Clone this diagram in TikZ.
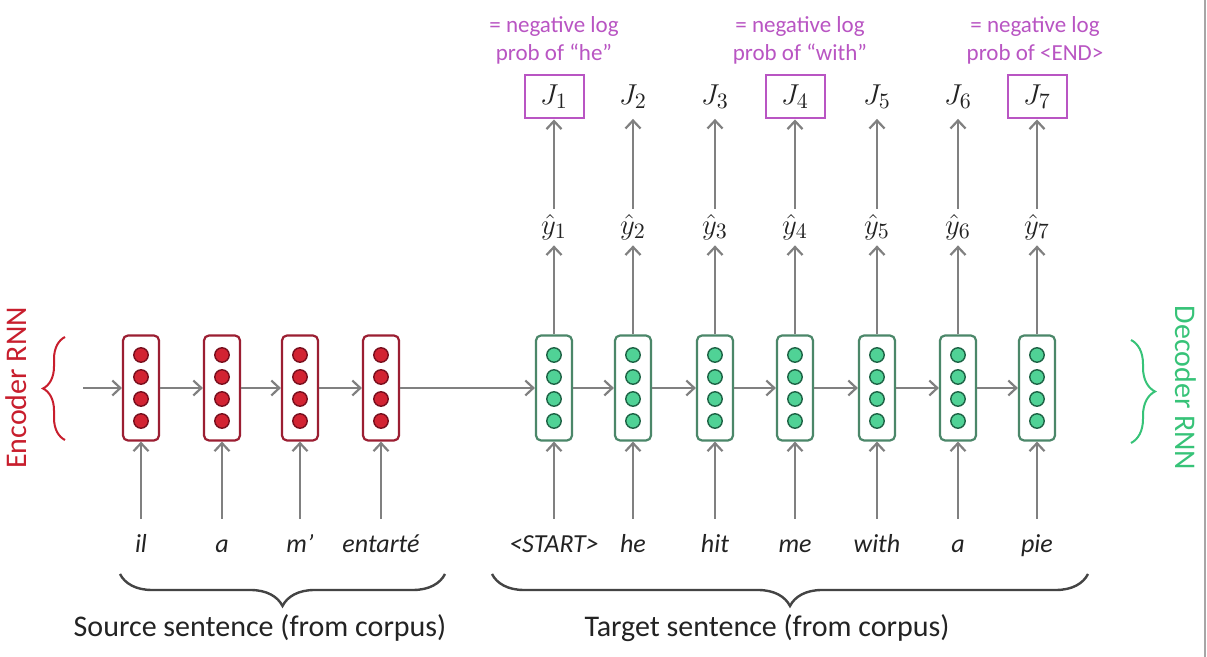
\documentclass[tikz,border=0pt]{standalone}
\usepackage{fontspec}
\setmainfont{Carlito}
\usetikzlibrary{arrows.meta,decorations.pathreplacing,calc}
\definecolor{encred}{RGB}{155,30,50}
\definecolor{encdotc}{RGB}{210,35,50}
\definecolor{encdotd}{RGB}{120,15,30}
\definecolor{enctext}{RGB}{200,30,45}
\definecolor{decgreen}{RGB}{75,135,105}
\definecolor{decdotc}{RGB}{80,210,150}
\definecolor{decdotd}{RGB}{30,100,70}
\definecolor{dectext}{RGB}{55,195,120}
\definecolor{lossp}{RGB}{185,85,195}
\definecolor{arrg}{RGB}{128,128,128}
\definecolor{textc}{RGB}{35,35,35}
\begin{document}
\begin{tikzpicture}[x=0.5pt,y=-0.5pt,
  every node/.style={inner sep=0pt},
  encc/.style={draw=encred, line width=1.1pt, rounded corners=2.5pt, minimum width=18pt, minimum height=52.5pt, fill=white},
  decc/.style={draw=decgreen, line width=1.1pt, rounded corners=2.5pt, minimum width=18pt, minimum height=52.5pt, fill=white},
  encdot/.style={fill=encdotc, draw=encdotd, line width=0.7pt},
  decdot/.style={fill=decdotc, draw=decdotd, line width=0.7pt},
  arr/.style={draw=arrg, line width=1.2pt, -{Straight Barb[length=4pt,width=7.5pt,line width=1.1pt]}},
  word/.style={font=\itshape\fontsize{13}{15}\selectfont, text=textc, anchor=base, text height=9pt, text depth=3pt, inner ysep=8pt},
  yhat/.style={font=\fontsize{15}{17}\selectfont, text=textc, minimum height=18pt},
  jlab/.style={font=\fontsize{15}{17}\selectfont, text=textc, minimum width=29.5pt, minimum height=21.5pt},
  jbox/.style={jlab, draw=lossp, line width=1pt},
  note/.style={text=lossp, align=center, font=\fontsize{11.5}{14}\selectfont},
  rnnlab/.style={font=\fontsize{15}{18}\selectfont},
  sentlab/.style={font=\fontsize{15}{18}\selectfont, text=textc, anchor=base},
  encbrace/.style={draw=enctext, line width=1pt, decorate, decoration={brace, amplitude=11pt}},
  decbrace/.style={draw=dectext, line width=1pt, decorate, decoration={brace, amplitude=12pt}},
  sentbrace/.style={draw=textc!85, line width=1.2pt, decorate, decoration={brace, amplitude=16pt}}
]
\useasboundingbox[fill=white] (0,0) rectangle (1207,657);
\draw[gray!70, line width=0.8pt] (1205,0) -- (1205,657);

% encoder cells
\foreach \n/\x in {1/141,2/222,3/300,4/381}{
  \node[encc] (e\n) at (\x,388) {};
  \foreach \yy in {355,377,399,421}
    \draw[encdot] (\x,\yy) circle[radius=3.6pt];
}
% decoder cells
\foreach \n/\x in {1/554,2/633,3/715,4/795,5/877,6/958,7/1037}{
  \node[decc] (d\n) at (\x,388) {};
  \foreach \yy in {355,377,399,421}
    \draw[decdot] (\x,\yy) circle[radius=3.6pt];
}

% recurrent arrows
\coordinate (s0) at (83,388);
\draw[arr] (s0) -- (e1.west);
\draw[arr] (e1.east) -- (e2.west);
\draw[arr] (e2.east) -- (e3.west);
\draw[arr] (e3.east) -- (e4.west);
\draw[arr] (e4.east) -- (d1.west);
\draw[arr] (d1.east) -- (d2.west);
\draw[arr] (d2.east) -- (d3.west);
\draw[arr] (d3.east) -- (d4.west);
\draw[arr] (d4.east) -- (d5.west);
\draw[arr] (d5.east) -- (d6.west);
\draw[arr] (d6.east) -- (d7.west);

% input words
\node[word] (w1) at (141,553) {il};
\node[word] (w2) at (222,553) {a};
\node[word] (w3) at (300,553) {m’};
\node[word] (w4) at (381,553) {entarté};
\node[word] (w5) at (554,553) {<START>};
\node[word] (w6) at (633,553) {he};
\node[word] (w7) at (715,553) {hit};
\node[word] (w8) at (795,553) {me};
\node[word] (w9) at (877,553) {with};
\node[word] (w10) at (958,553) {a};
\node[word] (w11) at (1037,553) {pie};
\foreach \n in {1,2,3,4}{ \draw[arr] (w\n.north) -- (e\n.south); }
\foreach \w/\d in {5/1,6/2,7/3,8/4,9/5,10/6,11/7}{ \draw[arr] (w\w.north) -- (d\d.south); }

% outputs
\foreach \n/\x in {1/554,2/633,3/715,4/795,5/877,6/958,7/1037}{
  \node[yhat] (y\n) at (\x,227) {$\hat{y}_{\n}$};
  \draw[arr] (d\n.north) -- (y\n.south);
}
\node[jbox] (j1) at (554,97) {$J_1$};
\node[jlab] (j2) at (633,97) {$J_2$};
\node[jlab] (j3) at (715,97) {$J_3$};
\node[jbox] (j4) at (795,97) {$J_4$};
\node[jlab] (j5) at (877,97) {$J_5$};
\node[jlab] (j6) at (958,97) {$J_6$};
\node[jbox] (j7) at (1037,97) {$J_7$};
\foreach \n in {1,...,7}{ \draw[arr] (y\n.north) -- (j\n.south); }

% notes
\node[note] (n1) at (554,40) {= negative log\\prob of “he”};
\node[note] (n4) at (800,40) {= negative log\\prob of “with”};
\node[note] (n7) at (1035,40) {= negative log\\prob of <END>};

% side braces and labels
\draw[encbrace] (65,440) -- (65,337);
\draw[decbrace] (1131,340) -- (1131,443);
\node[rnnlab, text=enctext, rotate=90] (enc) at (16,388) {Encoder RNN};
\node[rnnlab, text=dectext, rotate=-90] (dec) at (1186,388) {Decoder RNN};

% bottom braces
\draw[sentbrace] (445,574) -- (120,574);
\draw[sentbrace] (1088,574) -- (492,574);
\node[sentlab] (src) at (260,637) {Source sentence (from corpus)};
\node[sentlab] (tgt) at (767,637) {Target sentence (from corpus)};
\end{tikzpicture}
\end{document}
